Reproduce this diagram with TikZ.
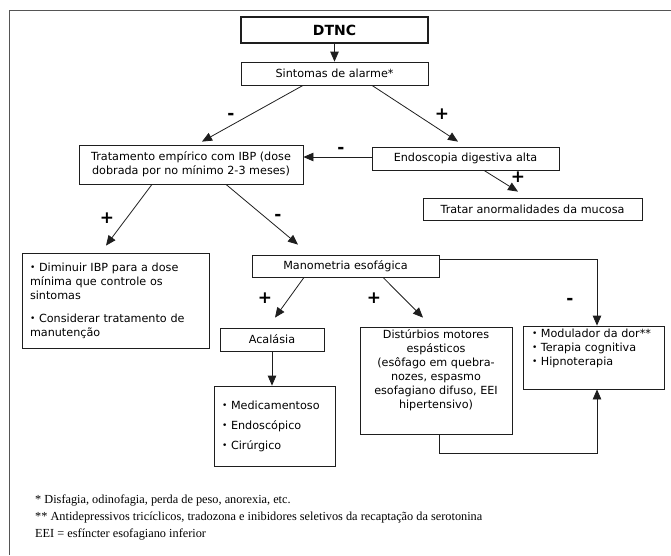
\documentclass[tikz,border=0pt]{standalone}
\usepackage{fontspec}
\setmainfont{DejaVu Sans}
\newfontfamily\notefont{Liberation Serif}
\usetikzlibrary{arrows.meta}
\definecolor{flowline}{HTML}{1E1E1E}
\definecolor{framegray}{HTML}{555555}
\newcommand{\blt}{\raisebox{0.8pt}{\small\textbullet}\ }
\tikzset{
  flowbox/.style={
    draw=flowline,
    line width=0.8pt,
    align=center,
    inner sep=3pt,
    font=\fontsize{11.2}{14}\selectfont
  },
  listbox/.style={
    flowbox,
    align=left,
    inner xsep=8pt
  },
  sign/.style={font=\bfseries\fontsize{17}{17}\selectfont,inner sep=0pt},
  arrow/.style={-{Triangle[length=10pt,width=8.5pt]},line width=0.8pt,draw=flowline},
  notes/.style={align=left,inner sep=0pt,font=\notefont\fontsize{12.3}{17}\selectfont}
}

\begin{document}
\begin{tikzpicture}[x=1pt,y=-1pt]
  \useasboundingbox (0,0) rectangle (671,555);
  \draw[framegray,line width=1.5pt] (671,10.5) -- (9.5,10.5) -- (9.5,555);

  \node[flowbox, minimum width=187pt, minimum height=26pt, line width=1.6pt,
        font=\bfseries\fontsize{14}{16}\selectfont] (dtnc) at (334.5,30) {DTNC};
  \node[flowbox, minimum width=187pt, minimum height=23pt] (sint) at (334.5,73.5) {Sintomas de alarme*};
  \node[flowbox, minimum width=224pt, minimum height=39pt] (trat) at (191,164.5)
    {Tratamento empírico com IBP (dose\\dobrada por no mínimo 2-3 meses)};
  \node[flowbox, minimum width=187pt, minimum height=23pt] (endo) at (465.5,158.5) {Endoscopia digestiva alta};
  \node[flowbox, minimum width=219pt, minimum height=22pt] (mucosa) at (532.5,209) {Tratar anormalidades da mucosa};
  \node[listbox, text width=171pt, minimum height=95pt] (dimin) at (115.5,300.5)
    {\blt Diminuir IBP para a dose\\mínima que controle os\\sintomas\\[9pt]\blt Considerar tratamento de\\manutenção};
  \node[flowbox, minimum width=187pt, minimum height=22pt] (mano) at (345.5,266) {Manometria esofágica};
  \node[flowbox, minimum width=104pt, minimum height=23pt] (acal) at (272,339.5) {Acalásia};
  \node[listbox, text width=105pt, minimum height=80pt] (acaltrat) at (274.5,426)
    {\blt Medicamentoso\\[6pt]\blt Endoscópico\\[6pt]\blt Cirúrgico};
  \node[flowbox] (dist) at (436,380.5)
    {\parbox[c][101pt][t]{146pt}{\centering Distúrbios motores\\espásticos\\(esôfago em quebra-\\nozes, espasmo\\esofagiano difuso, EEI\\hipertensivo)}};
  \node[flowbox, inner xsep=9pt] (modu) at (593.5,357.5)
    {\parbox[c][57pt][t]{123pt}{\blt Modulador da dor**\\\blt Terapia cognitiva\\\blt Hipnoterapia}};

  \draw[arrow] (dtnc) -- (sint);
  \draw[arrow] ([xshift=-31.5pt]sint.south) -- ([xshift=11pt,yshift=3pt]trat.north);
  \draw[arrow] ([xshift=37.5pt]sint.south) -- ([xshift=-7.5pt,yshift=5pt]endo.north);
  \draw[arrow] ([yshift=1.5pt]endo.west) -- ([yshift=1.5pt]endo.west -| trat.east);
  \draw[arrow] ([xshift=18.5pt]endo.south) -- ([xshift=-14.5pt,yshift=6pt]mucosa.north);
  \draw[arrow] ([xshift=-39pt]trat.south) -- ([xshift=-9.5pt,yshift=7pt]dimin.north);
  \draw[arrow] ([xshift=35pt]trat.south) -- ([xshift=-47.5pt,yshift=10pt]mano.north);
  \draw[arrow] ([xshift=-41.5pt]mano.south) -- ([xshift=3pt,yshift=10pt]acal.north);
  \draw[arrow] ([xshift=37.5pt]mano.south) -- ([xshift=-13pt,yshift=9pt]dist.north);
  \draw[arrow] ([yshift=7pt]mano.east) -| ([xshift=3.5pt]modu.north);
  \draw[arrow] (acal) -- (acal |- acaltrat.north);
  \draw[arrow] ([xshift=3pt]dist.south) -- ++(0,19) -| ([xshift=3.5pt]modu.south);

  \node[sign] (sintneg) at (231,116) {-};
  \node[sign] (sintpos) at (442,114) {+};
  \node[sign] (endoneg) at (341,150) {-};
  \node[sign] (endopos) at (518,177) {+};
  \node[sign] (tratpos) at (107,218) {+};
  \node[sign] (tratneg) at (278,217) {-};
  \node[sign] (acalpos) at (265,298) {+};
  \node[sign] (distpos) at (374,298) {+};
  \node[sign] (moduneg) at (570,301) {-};

  \node[notes, anchor=north west] (footnotes) at (35,495)
    {* Disfagia, odinofagia, perda de peso, anorexia, etc.\\
     ** Antidepressivos tricíclicos, tradozona e inibidores seletivos da recaptação da serotonina\\
     EEI = esfíncter esofagiano inferior};
\end{tikzpicture}
\end{document}
